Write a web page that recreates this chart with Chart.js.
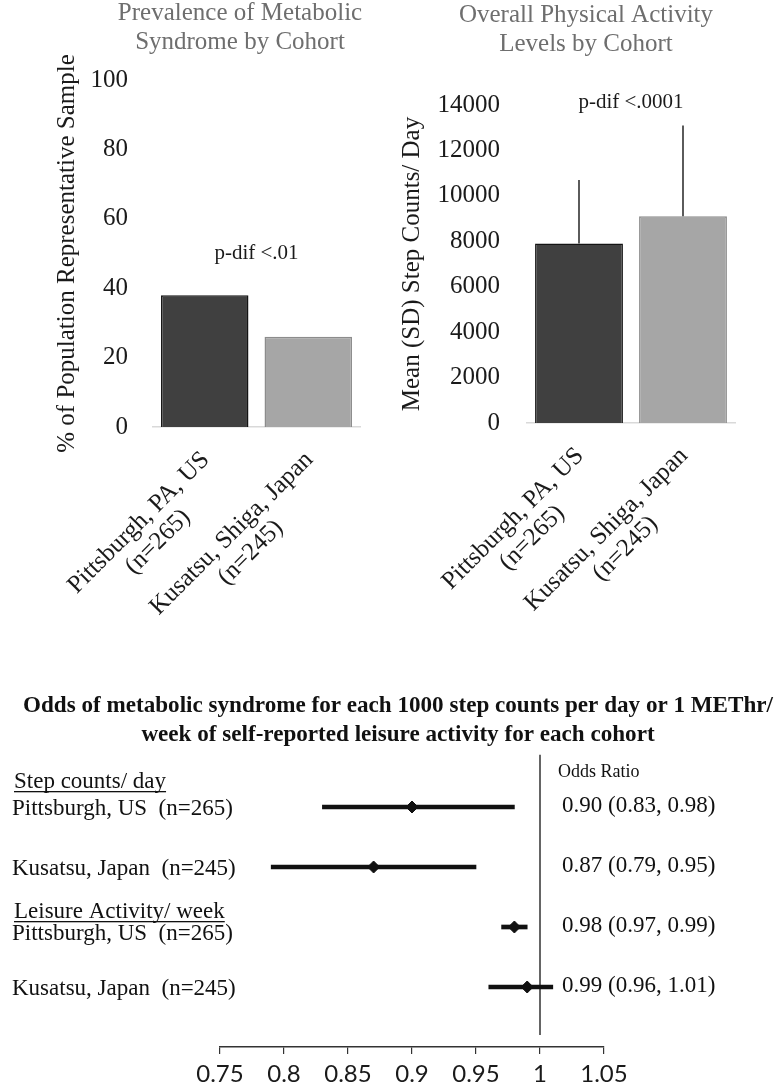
<!DOCTYPE html>
<html lang="en">
<head>
<meta charset="UTF-8">
<title>Metabolic syndrome and physical activity by cohort</title>
<script src="https://cdn.jsdelivr.net/npm/chart.js@4"></script>
<style>
  body { margin: 0; background: #fff; }
  .wrap { position: relative; width: 775px; height: 1085px; overflow: hidden; }
  .box { position: absolute; }
  #prevBox { left: 0; top: 0; }
  #stepBox { left: 380px; top: 0; }
  #oddsBox { left: 0; top: 640px; }
</style>
</head>
<body>
<div class="wrap">
  <div class="box" id="prevBox"><canvas id="prevChart" width="380" height="640"></canvas></div>
  <div class="box" id="stepBox"><canvas id="stepChart" width="395" height="640"></canvas></div>
  <div class="box" id="oddsBox"><canvas id="oddsChart" width="775" height="445"></canvas></div>
</div>
<script>
// --- data ---
const cohorts = [['Pittsburgh, PA, US', '(n=265)'], ['Kusatsu, Shiga, Japan', '(n=245)']];
const prevalence = [38, 26];
const prevTicks = [0, 20, 40, 60, 80, 100];
const stepMeans = [7900, 9100];
const stepSD = [2800, 4000];
const stepTicks = [0, 2000, 4000, 6000, 8000, 10000, 12000, 14000];

const oddsGroups = ['Step counts/ day', 'Leisure Activity/ week'];
const oddsRows = ['Pittsburgh, US  (n=265)', 'Kusatsu, Japan  (n=245)', 'Pittsburgh, US  (n=265)', 'Kusatsu, Japan  (n=245)'];
const oddsRatio = [0.90, 0.87, 0.98, 0.99];
const ciLow = [0.83, 0.79, 0.97, 0.96];
const ciHigh = [0.98, 0.95, 0.99, 1.01];
const oddsTicks = [0.75, 0.8, 0.85, 0.9, 0.95, 1, 1.05];

const serif = "'Liberation Serif', 'Times New Roman', serif";
const barFill = ['#404040', '#a6a6a6'];
const barEdge = ['#141414', '#8c8c8c'];

// titles, p-values, SD whiskers and slanted cohort names for the two top charts
function barDecor(o) {
  return {
    id: 'barDecor',
    afterDatasetsDraw(chart) {
      if (!o.sd) return;
      const ctx = chart.ctx, ys = chart.scales.y;
      const bars = chart.getDatasetMeta(0).data;
      ctx.save();
      ctx.strokeStyle = '#333';
      ctx.lineWidth = 1.6;
      bars.forEach((bar, i) => {
        ctx.beginPath();
        ctx.moveTo(bar.x, ys.getPixelForValue(o.values[i]));
        ctx.lineTo(bar.x, ys.getPixelForValue(o.values[i] + o.sd[i]));
        ctx.stroke();
      });
      ctx.restore();
    },
    afterDraw(chart) {
      const ctx = chart.ctx, xs = chart.scales.x, ys = chart.scales.y;
      ctx.save();
      ctx.textAlign = 'center';
      ctx.textBaseline = 'middle';

      ctx.fillStyle = '#6e6e6e';
      ctx.font = '25px ' + serif;
      o.title.forEach((t, k) => ctx.fillText(t, o.titleX, o.titleY + k * 29));

      ctx.fillStyle = '#1a1a1a';
      ctx.font = '21px ' + serif;
      const mid = (xs.getPixelForValue(0) + xs.getPixelForValue(1)) / 2;
      ctx.fillText(o.note, mid, ys.getPixelForValue(o.noteAt));

      ctx.font = '25px ' + serif;
      const bottom = chart.chartArea.bottom;
      cohorts.forEach((lines, i) => {
        const w = ctx.measureText(lines[0]).width;
        ctx.save();
        ctx.translate(xs.getPixelForValue(i) + 1, bottom + 29);
        ctx.rotate(-Math.PI / 4);
        lines.forEach((t, k) => ctx.fillText(t, -w / 2, k * 27));
        ctx.restore();
      });
      ctx.restore();
    }
  };
}

function barChart(id, o) {
  return new Chart(document.getElementById(id), {
    type: 'bar',
    data: {
      labels: cohorts.map(c => c[0]),
      datasets: [{
        data: o.values,
        backgroundColor: barFill,
        borderColor: barEdge,
        borderWidth: 1.5,
        barPercentage: 0.845,
        categoryPercentage: 1
      }]
    },
    options: {
      responsive: false,
      animation: false,
      layout: { padding: { top: o.top, right: o.right, left: 0, bottom: 0 } },
      plugins: { legend: { display: false }, tooltip: { enabled: false } },
      scales: {
        x: {
          grid: { display: false, drawTicks: false },
          border: { color: '#d9d9d9', width: 1.5 },
          ticks: { display: false },
          afterFit: s => { s.height = 640 - o.bottom; }
        },
        y: {
          min: 0,
          max: o.ticks[o.ticks.length - 1],
          afterBuildTicks: s => { s.ticks = o.ticks.map(v => ({ value: v })); },
          grid: { display: false, drawTicks: false },
          border: { display: false },
          ticks: {
            color: '#1a1a1a',
            padding: o.tickPad,
            font: { family: serif, size: 25 },
            callback: v => String(v)
          },
          title: {
            display: true,
            text: o.yTitle,
            color: '#1a1a1a',
            font: { family: serif, size: 25 },
            padding: { top: o.titlePad, bottom: 0 }
          },
          afterFit: s => { s.width = o.yWidth; }
        }
      }
    },
    plugins: [barDecor(o)]
  });
}

barChart('prevChart', {
  values: prevalence,
  ticks: prevTicks,
  title: ['Prevalence of Metabolic', 'Syndrome by Cohort'],
  titleX: 240, titleY: 13,
  note: 'p-dif <.01', noteAt: 50,
  yTitle: '% of Population Representative Sample',
  top: 80, bottom: 427, right: 20, yWidth: 153, tickPad: 25, titlePad: 52
});

barChart('stepChart', {
  values: stepMeans,
  sd: stepSD,
  ticks: stepTicks,
  title: ['Overall Physical Activity', 'Levels by Cohort'],
  titleX: 206, titleY: 15,
  note: 'p-dif <.0001', noteAt: 14100,
  yTitle: 'Mean (SD) Step Counts/ Day',
  top: 105, bottom: 423, right: 40, yWidth: 147, tickPad: 27, titlePad: 17
});

// --- forest plot ---
const oddsDecor = {
  id: 'oddsDecor',
  afterDraw(chart) {
    const ctx = chart.ctx, ys = chart.scales.y;
    const rowY = oddsRows.map((r, i) => ys.getPixelForValue(i + 1));
    ctx.save();
    ctx.fillStyle = '#111';
    ctx.textBaseline = 'middle';

    // heading, fitted to the width of the original
    const head = ['Odds of metabolic syndrome for each 1000 step counts per day or 1 METhr/',
                  'week of self-reported leisure activity for each cohort'];
    ctx.font = 'bold 22px ' + serif;
    const size = 22 * 750 / ctx.measureText(head[0]).width;
    ctx.font = 'bold ' + size.toFixed(2) + 'px ' + serif;
    ctx.textAlign = 'center';
    head.forEach((t, k) => ctx.fillText(t, 398, 66 + k * 29));

    ctx.textAlign = 'left';
    ctx.font = '23px ' + serif;
    // the first row of each group sits a little lower, under its heading
    oddsRows.forEach((t, i) => ctx.fillText(t, 12, rowY[i] + (i === 2 ? 7 : 2)));

    // group headings, underlined
    [[oddsGroups[0], rowY[0] - 25], [oddsGroups[1], rowY[2] - 15]].forEach(([t, y]) => {
      ctx.fillText(t, 14, y);
      const w = ctx.measureText(t).width;
      ctx.fillRect(14, y + 9, w, 1.3);
    });

    oddsRatio.forEach((v, i) => {
      const txt = v.toFixed(2) + ' (' + ciLow[i].toFixed(2) + ', ' + ciHigh[i].toFixed(2) + ')';
      ctx.fillText(txt, 562, rowY[i] - 1);
    });

    ctx.font = '18px ' + serif;
    ctx.fillText('Odds Ratio', 558, rowY[0] - 35);
    ctx.restore();
  }
};

new Chart(document.getElementById('oddsChart'), {
  type: 'scatter',
  data: {
    datasets: [
      {
        type: 'bar',
        indexAxis: 'y',
        data: ciLow.map((lo, i) => ({ x: [lo, ciHigh[i]], y: i + 1 })),
        backgroundColor: '#111',
        borderWidth: 0,
        barThickness: 4,
        order: 2
      },
      {
        type: 'scatter',
        data: oddsRatio.map((v, i) => ({ x: v, y: i + 1 })),
        pointStyle: 'rectRot',
        pointRadius: 6,
        backgroundColor: '#111',
        borderColor: '#111',
        order: 1
      },
      {
        type: 'line',
        data: [{ x: 1, y: 0.13 }, { x: 1, y: 4.8 }],
        borderColor: '#333',
        borderWidth: 1.5,
        pointRadius: 0,
        order: 3
      }
    ]
  },
  options: {
    responsive: false,
    animation: false,
    layout: { padding: { top: 107, right: 171, left: 220, bottom: 0 } },
    plugins: { legend: { display: false }, tooltip: { enabled: false } },
    scales: {
      x: {
        type: 'linear',
        min: 0.75,
        max: 1.05,
        offset: false,
        afterBuildTicks: s => { s.ticks = oddsTicks.map(v => ({ value: v })); },
        grid: { display: true, offset: false, drawOnChartArea: false, drawTicks: true, tickLength: 7, color: '#333', lineWidth: 1.2 },
        border: { color: '#333', width: 1.5 },
        ticks: {
          color: '#1a1a1a',
          padding: 6,
          autoSkip: false,
          maxRotation: 0,
          font: { family: 'Lato', size: 24 },
          callback: v => String(v)
        },
        afterFit: s => { s.height = 38; }
      },
      y: {
        type: 'linear',
        min: 0,
        max: 5,
        reverse: true,
        offset: false,
        grid: { offset: false },
        display: false
      }
    }
  },
  plugins: [oddsDecor]
});
</script>
</body>
</html>
